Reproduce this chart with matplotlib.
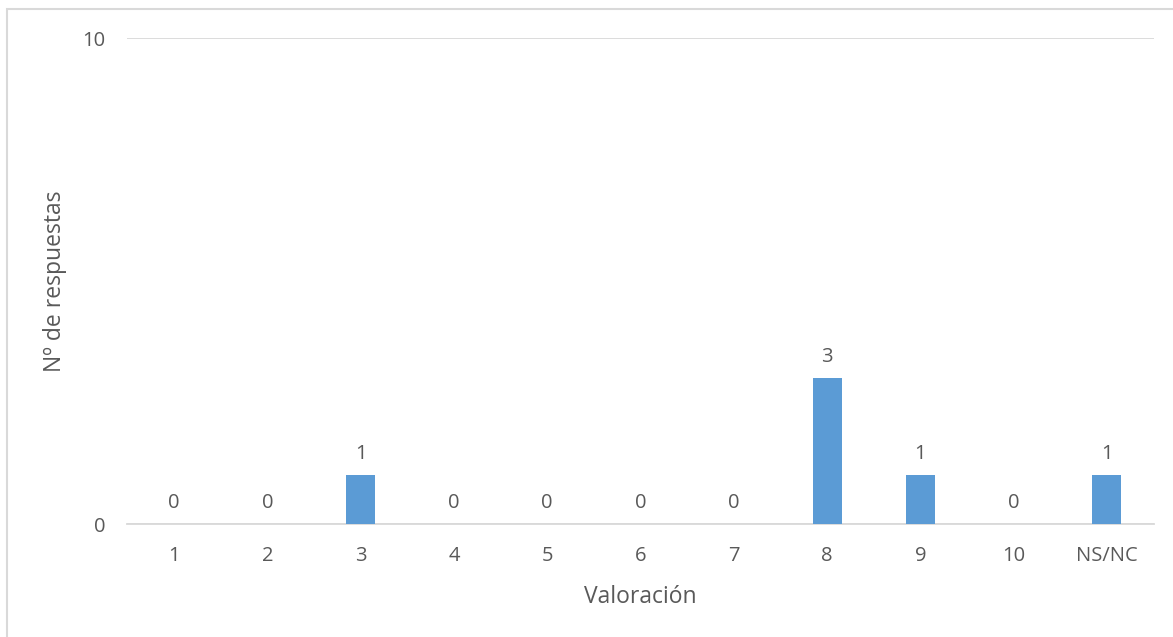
import matplotlib
matplotlib.use("Agg")
import matplotlib.pyplot as plt
from matplotlib.patches import Rectangle

categories = ["1", "2", "3", "4", "5", "6", "7", "8", "9", "10", "NS/NC"]
values = [0, 0, 1, 0, 0, 0, 0, 3, 1, 0, 1]
y_ticks = [0, 10]

plt.rcParams['font.family'] = ['Open Sans', 'DejaVu Sans']
txt = "#595959"
grid = "#d9d9d9"
bar_color = "#5b9bd5"

W, H = 1173, 637
fig = plt.figure(figsize=(W / 100, H / 100), dpi=100)
ax = fig.add_axes([127.4 / W, 1 - 524 / H, (1153.6 - 127.4) / W, (524 - 38) / H])

x = list(range(len(categories)))
ax.bar(x, values, width=0.31, color=bar_color, zorder=3)
for xi, v in zip(x, values):
    ax.annotate(str(v), (xi, v), xytext=(0, 8), textcoords="offset points",
                ha="center", va="bottom", fontsize=14.5, color=txt)

ax.set_xlim(-0.5, len(categories) - 0.5)
ax.set_ylim(0, 10)
ax.set_yticks(y_ticks)
ax.set_xticks(x)
ax.set_xticklabels(categories)
ax.tick_params(axis="both", length=0, labelsize=14.5, colors=txt)
ax.tick_params(axis="x", pad=16)
ax.tick_params(axis="y", pad=16)
ax.yaxis.grid(True, color=grid, linewidth=1.3, zorder=0)
for s in ["top", "right", "left"]:
    ax.spines[s].set_visible(False)
ax.spines["bottom"].set_color(grid)
ax.spines["bottom"].set_linewidth(1.3)

fig.text(55 / W, 1 - 281 / H, "Nº de respuestas", rotation=90, ha="center", va="center",
         fontsize=16.5, color=txt)
fig.text(640.5 / W, 1 - 597 / H, "Valoración", ha="center", va="center",
         fontsize=16.5, color=txt)

fig.patches.append(Rectangle((7 / W, -0.1), 1.2, 1 - 9 / H + 0.1, transform=fig.transFigure,
                             fill=False, edgecolor=grid, linewidth=1.5))

fig.savefig("out.png", dpi=100)
